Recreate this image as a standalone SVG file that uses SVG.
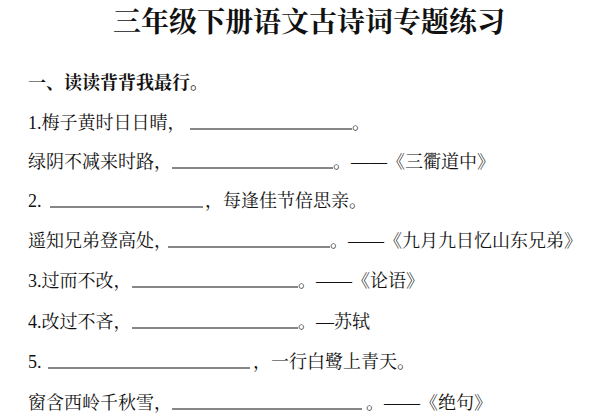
<svg xmlns="http://www.w3.org/2000/svg" width="600" height="420" viewBox="0 0 600 420">
<style>
text{font-family:"Liberation Serif","Noto Serif CJK SC","Noto Sans CJK SC",serif;font-size:18px;fill:#111}
.t{font-size:28px;font-weight:bold}
.h{font-weight:bold;font-size:18px}
line{stroke:#111;stroke-width:1.2}
</style>
<rect width="600" height="420" fill="#fff"/>
<text class="t" x="309" y="32" text-anchor="middle">三年级下册语文古诗词专题练习</text>
<text class="h" x="28" y="89">一、读读背背我最行。</text>
<text x="28" y="129">1.梅子黄时日日晴，</text><line x1="190" y1="129" x2="352" y2="129"/><text x="352" y="129">。</text>
<text x="28" y="168">绿阴不减来时路，</text><line x1="172" y1="168" x2="333" y2="168"/><text x="333" y="168">。——《三衢道中》</text>
<text x="28" y="207">2.</text><line x1="50" y1="207" x2="203" y2="207"/><text x="205" y="207">，每逢佳节倍思亲。</text>
<text x="28" y="247">遥知兄弟登高处，</text><line x1="168" y1="247" x2="330" y2="247"/><text x="330" y="247">。——《九月九日忆山东兄弟》</text>
<text x="28" y="287">3.过而不改，</text><line x1="132" y1="287" x2="298" y2="287"/><text x="298" y="287">。——《论语》</text>
<text x="28" y="328">4.改过不吝，</text><line x1="132" y1="328" x2="298" y2="328"/><text x="298" y="328">。—苏轼</text>
<text x="28" y="368">5.</text><line x1="48" y1="368" x2="250" y2="368"/><text x="253" y="368">，一行白鹭上青天。</text>
<text x="28" y="409">窗含西岭千秋雪，</text><line x1="172" y1="409" x2="362" y2="409"/><text x="366" y="409">。——《绝句》</text>
</svg>
